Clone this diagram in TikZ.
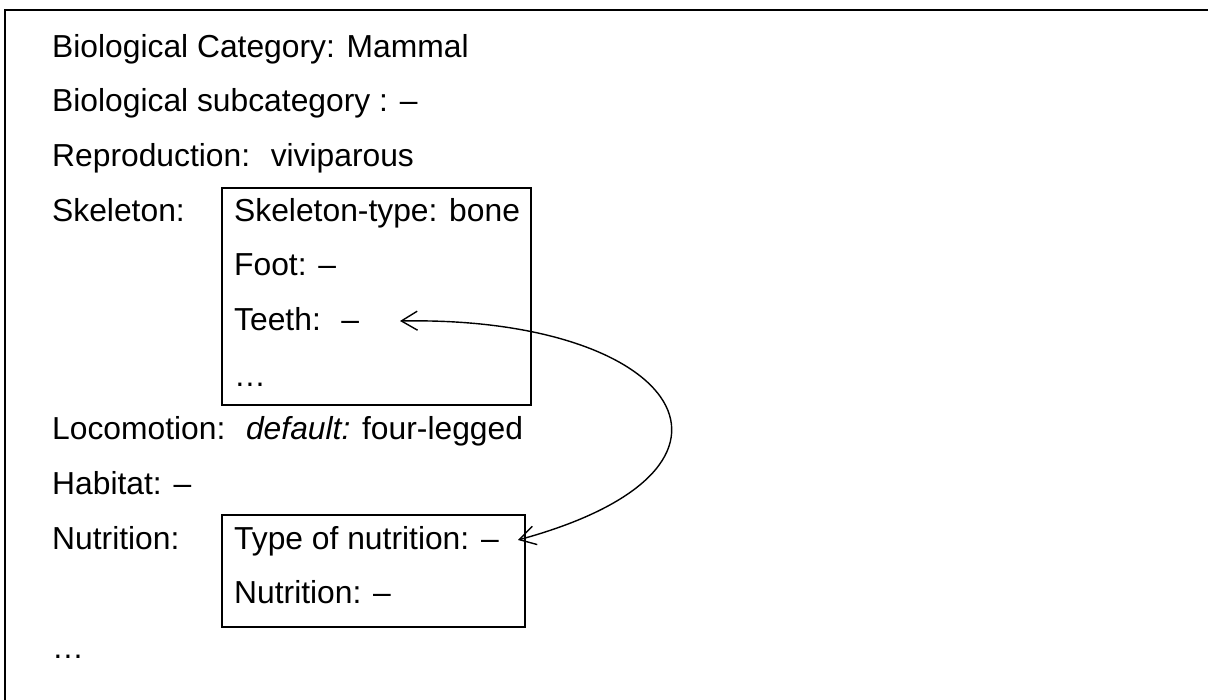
\documentclass[tikz,border=0pt]{standalone}
\usepackage{fontspec}
\setmainfont{Liberation Sans}
\usetikzlibrary{arrows.meta, positioning, fit}
\newcommand{\slotfont}{\fontsize{31.8}{38}\selectfont}
\tikzset{
  slot/.style={
    anchor=base west,
    inner sep=0pt,
    font=\slotfont
  },
  frame/.style={
    rectangle,
    draw,
    line width=1.8pt,
    inner sep=0pt
  },
  subframe/.style={
    rectangle,
    draw,
    line width=1.4pt,
    inner sep=0pt
  },
  link/.style={{Straight Barb[length=16pt,width=19pt]}-{Straight Barb[length=16pt,width=19pt]}, line width=1.4pt}
}
\begin{document}
\begin{tikzpicture}[x=1pt,y=-1pt]
\useasboundingbox (0,0) rectangle (1208,700);
\clip (0,0) rectangle (1208,700);

% frame corners
\coordinate (outernw) at (5,10);
\coordinate (outerse) at (1250,750);
\coordinate (skelnw) at (222,188);
\coordinate (skelse) at (531,405);
\coordinate (nutrnw) at (222,515);
\coordinate (nutrse) at (525,627);

\node[frame, fit=(outernw)(outerse)] (mammalframe) {};
\node[subframe, fit=(skelnw)(skelse)] (skeletonbox) {};
\node[subframe, fit=(nutrnw)(nutrse)] (nutritionbox) {};

\node[slot] (category) at (52,58) {Biological Category: Mammal};
\node[slot] (subcategory) at (52,112) {Biological subcategory : –};
\node[slot] (reproduction) at (52,167) {Reproduction:~ viviparous};
\node[slot] (skeleton) at (52,222) {Skeleton:};
\node[slot] (skeltype) at (234,222) {Skeleton-type: bone};
\node[slot] (foot) at (234,276) {Foot: –};
\node[slot] (teeth) at (234,331) {Teeth:~ –};
\node[slot] (skeldots) at (234,387) {…};
\node[slot] (locomotion) at (52,440) {Locomotion:~ \textit{default:} four-legged};
\node[slot] (habitat) at (52,494) {Habitat: –};
\node[slot] (nutrition) at (52,549) {Nutrition:};
\node[slot] (nutrtype) at (234,549) {Type of nutrition: –};
\node[slot] (nutrvalue) at (234,603) {Nutrition: –};
\node[slot] (moredots) at (52,658) {…};

% link between teeth and nutrition type
\coordinate (teethtip) at (400,321);
\coordinate (nutrtip) at (518,540);
\draw[link] (teethtip) .. controls (680,316) and (782,468) .. (nutrtip);
\end{tikzpicture}
\end{document}
